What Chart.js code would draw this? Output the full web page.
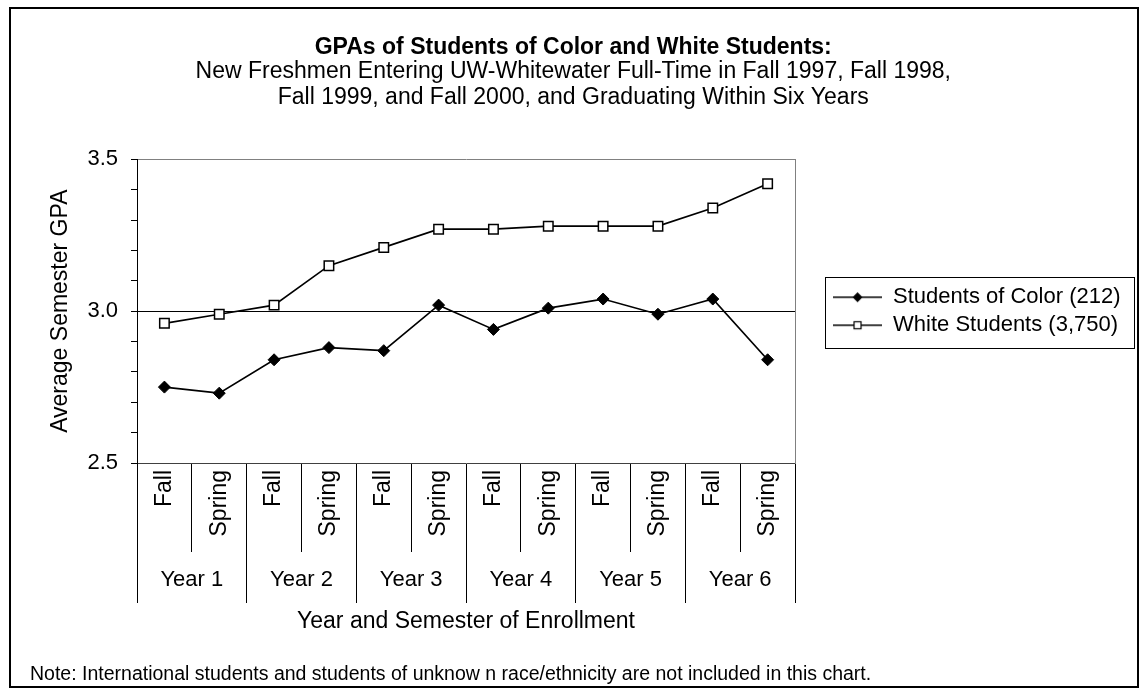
<!DOCTYPE html>
<html>
<head>
<meta charset="utf-8">
<title>GPAs of Students of Color and White Students</title>
<script src="https://cdn.jsdelivr.net/npm/chart.js@4.4.1/dist/chart.umd.min.js"></script>
<style>
  html, body { margin: 0; padding: 0; background: #fff; }
  #wrap { position: relative; width: 1142px; height: 691px; }
  #frame { position: absolute; left: 9px; top: 7px; width: 1126px; height: 677px; border: 2px solid #000; }
  #gpa-chart { position: absolute; left: 0; top: 0; }
  #note { position: absolute; left: 30px; top: 662px; font: 19.5px 'Liberation Sans', Arial, sans-serif; line-height: 22px; color: #000; white-space: nowrap; }
</style>
</head>
<body>
<div id="wrap">
  <div id="frame"></div>
  <canvas id="gpa-chart" width="1142" height="691"></canvas>
  <div id="note">Note: International students and students of unknow n race/ethnicity are not included in this chart.</div>
</div>
<script>
// semesters along the x axis, grouped by year underneath
const semesters = ['Fall', 'Spring', 'Fall', 'Spring', 'Fall', 'Spring',
                   'Fall', 'Spring', 'Fall', 'Spring', 'Fall', 'Spring'];
const years = ['Year 1', 'Year 2', 'Year 3', 'Year 4', 'Year 5', 'Year 6'];

// average semester GPA
const colorGpa = [2.75, 2.73, 2.84, 2.88, 2.87, 3.02, 2.94, 3.01, 3.04, 2.99, 3.04, 2.84];
const whiteGpa = [2.96, 2.99, 3.02, 3.15, 3.21, 3.27, 3.27, 3.28, 3.28, 3.28, 3.34, 3.42];

const yLabeled = [2.5, 3.0, 3.5];

Chart.defaults.font.family = "'Liberation Sans', Arial, sans-serif";
Chart.defaults.color = '#000';

// little line+marker swatches for the legend
function legendMarker(kind) {
    const c = document.createElement('canvas');
    c.width = 49;
    c.height = 14;
    const g = c.getContext('2d');
    g.strokeStyle = '#000';
    g.lineWidth = 1.5;
    g.beginPath();
    g.moveTo(0, 7);
    g.lineTo(49, 7);
    g.stroke();
    if (kind === 'diamond') {
        g.fillStyle = '#000';
        g.beginPath();
        g.moveTo(24.5, 2);
        g.lineTo(29.5, 7);
        g.lineTo(24.5, 12);
        g.lineTo(19.5, 7);
        g.closePath();
        g.fill();
    } else {
        g.fillStyle = '#fff';
        g.fillRect(21, 3.5, 7, 7);
        g.lineWidth = 1.2;
        g.strokeRect(21, 3.5, 7, 7);
    }
    return c;
}
const markers = [legendMarker('diamond'), legendMarker('square')];

// box around the legend
const legendFrame = {
    id: 'legendFrame',
    afterDraw(chart) {
        const boxes = chart.legend && chart.legend.legendHitBoxes;
        if (!boxes || !boxes.length) return;
        const left = Math.min(...boxes.map(b => b.left)) - 8;
        const right = Math.max(...boxes.map(b => b.left + b.width)) + 14;
        const top = Math.min(...boxes.map(b => b.top)) - 9;
        const bottom = Math.max(...boxes.map(b => b.top + b.height)) + 12;
        const ctx = chart.ctx;
        ctx.save();
        ctx.strokeStyle = '#000';
        ctx.lineWidth = 1;
        ctx.strokeRect(Math.round(left) + 0.5, Math.round(top) + 0.5,
                       Math.round(right - left), Math.round(bottom - top));
        ctx.restore();
    }
};

const isLabeled = v => yLabeled.some(t => Math.abs(t - v) < 1e-6);

new Chart(document.getElementById('gpa-chart').getContext('2d'), {
    type: 'line',
    data: {
        labels: semesters,
        datasets: [{
            label: 'Students of Color (212)',
            data: colorGpa,
            borderColor: '#000',
            borderWidth: 1.7,
            pointStyle: 'rectRot',
            pointRadius: 6,
            pointBackgroundColor: '#000',
            pointBorderColor: '#000',
            pointBorderWidth: 1
        }, {
            label: 'White Students (3,750)',
            data: whiteGpa,
            borderColor: '#000',
            borderWidth: 1.7,
            pointStyle: 'rect',
            pointRadius: 6.7,
            pointBackgroundColor: '#fff',
            pointBorderColor: '#000',
            pointBorderWidth: 1.5
        }]
    },
    options: {
        responsive: false,
        animation: false,
        layout: { padding: { left: 16, right: 11.5, top: 20, bottom: 54 } },
        plugins: {
            title: {
                display: true,
                text: 'GPAs of Students of Color and White Students:',
                font: { size: 23, weight: 'bold', lineHeight: 0.8 },
                padding: { top: 18, bottom: 0 }
            },
            subtitle: {
                display: true,
                text: ['New Freshmen Entering UW-Whitewater Full-Time in Fall 1997, Fall 1998,',
                       'Fall 1999, and Fall 2000, and Graduating Within Six Years'],
                font: { size: 23, lineHeight: 1.13 },
                color: '#000',
                padding: { top: 2, bottom: 49 }
            },
            legend: {
                position: 'right',
                fullSize: false,
                maxWidth: 400,
                labels: {
                    usePointStyle: true,
                    pointStyleWidth: 49,
                    padding: 6,
                    font: { size: 22 },
                    generateLabels: chart => chart.data.datasets.map((ds, i) => ({
                        text: ds.label,
                        pointStyle: markers[i],
                        datasetIndex: i,
                        fillStyle: '#000',
                        strokeStyle: '#000',
                        lineWidth: 0,
                        hidden: false
                    }))
                }
            },
            tooltip: { enabled: false }
        },
        scales: {
            x: {
                type: 'category',
                position: 'bottom',
                offset: true,
                grid: { offset: true, drawOnChartArea: false, tickLength: 89, color: '#000', tickColor: '#000' },
                border: { color: '#404040', width: 1 },
                ticks: { autoSkip: false, minRotation: 90, maxRotation: 90, padding: -82, font: { size: 23 } },
                afterFit: s => { s.height = 89; }
            },
            x2: {
                type: 'category',
                position: 'bottom',
                labels: years,
                offset: true,
                grid: { offset: true, drawOnChartArea: false, tickLength: 51, color: '#000', tickColor: '#000' },
                border: { display: false },
                ticks: { autoSkip: false, maxRotation: 0, padding: -36, font: { size: 22 } },
                title: {
                    display: true,
                    text: 'Year and Semester of Enrollment',
                    font: { size: 23 },
                    padding: { top: 0, bottom: 2 }
                },
                afterFit: s => { s.height = 85; }
            },
            y: {
                type: 'linear',
                min: 2.5,
                max: 3.5,
                ticks: {
                    stepSize: 0.1,
                    padding: 13,
                    font: { size: 22 },
                    callback: v => isLabeled(v) ? v.toFixed(1) : ''
                },
                grid: {
                    tickLength: 6,
                    tickColor: '#000',
                    color: ctx => {
                        const v = ctx.tick ? ctx.tick.value : null;
                        if (v !== null && Math.abs(v - 3.0) < 1e-6) return '#000';
                        if (v !== null && Math.abs(v - 3.5) < 1e-6) return '#808080';
                        return 'rgba(0,0,0,0)';
                    }
                },
                border: { color: '#000', width: 1 },
                title: {
                    display: true,
                    text: 'Average Semester GPA',
                    font: { size: 23 },
                    padding: { top: 31, bottom: 0 }
                },
                afterFit: s => { s.width = 121; }
            },
            y2: {
                type: 'linear',
                position: 'right',
                grid: { display: false },
                ticks: { display: false },
                border: { display: true, color: '#808080', width: 1 },
                afterFit: s => { s.width = 32; }
            }
        }
    },
    plugins: [legendFrame]
});
</script>
</body>
</html>
